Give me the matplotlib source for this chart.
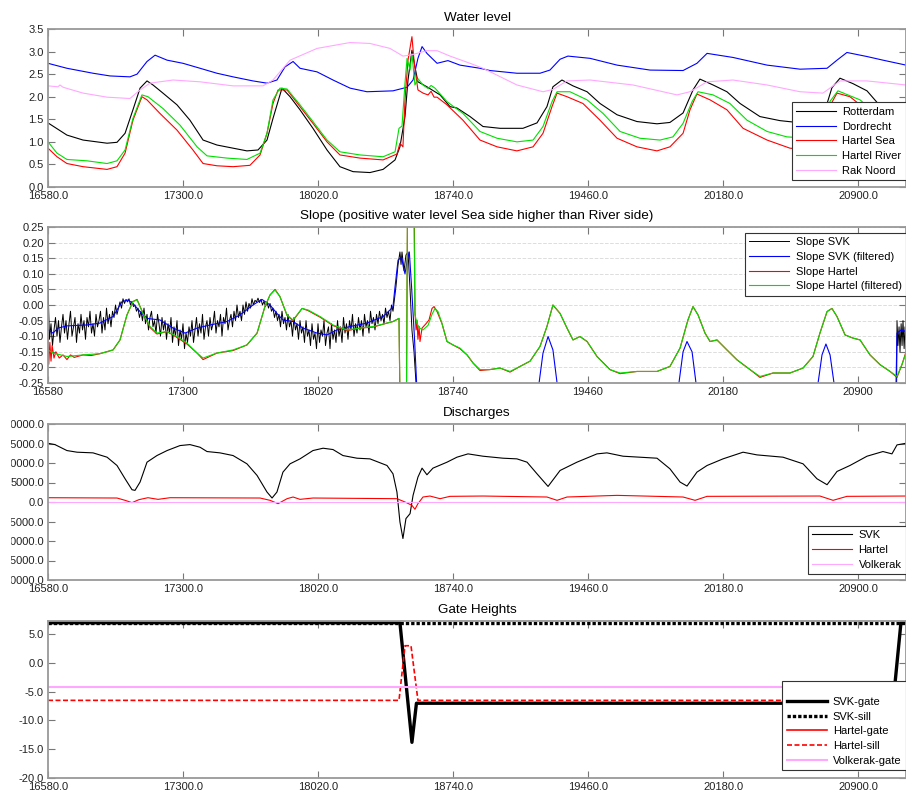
import numpy as np
import matplotlib
matplotlib.use("Agg")
import matplotlib.pyplot as plt
from matplotlib.ticker import FormatStrFormatter, FuncFormatter
from matplotlib.patches import Rectangle

plt.rcParams['font.family'] = ['Liberation Sans', 'DejaVu Sans']
plt.rcParams['font.size'] = 8

# time axis
xticks = [16580, 17300, 18020, 18740, 19460, 20180, 20900]
x_min, x_max = 16580, 21156

# water level [time, m]
rotterdam = np.array([
    [16580, 1.42], [16681, 1.15], [16767, 1.04], [16895, 0.97], [16948, 0.99], [16991, 1.19],
    [17033, 1.71], [17071, 2.19], [17108, 2.35], [17140, 2.26], [17193, 2.08], [17268, 1.82],
    [17337, 1.48], [17407, 1.04], [17481, 0.93], [17567, 0.86], [17641, 0.80], [17700, 0.82],
    [17748, 1.04], [17780, 1.52], [17828, 2.19], [17871, 2.00], [17924, 1.71], [17993, 1.30],
    [18068, 0.82], [18137, 0.45], [18207, 0.34], [18297, 0.32], [18367, 0.39], [18431, 0.60],
    [18457, 0.89], [18484, 1.56], [18500, 2.37], [18521, 3.03], [18537, 2.66], [18553, 2.33],
    [18601, 2.22], [18671, 2.04], [18724, 1.78], [18761, 1.75], [18831, 1.56], [18900, 1.34],
    [18991, 1.30], [19113, 1.30], [19188, 1.42], [19241, 1.78], [19273, 2.22], [19321, 2.37],
    [19380, 2.24], [19455, 2.11], [19524, 1.85], [19615, 1.60], [19721, 1.45], [19828, 1.40],
    [19897, 1.43], [19967, 1.64], [20020, 2.15], [20057, 2.39], [20127, 2.26], [20201, 2.11],
    [20271, 1.85], [20377, 1.56], [20484, 1.47], [20575, 1.43], [20671, 1.42], [20724, 1.70],
    [20761, 2.20], [20804, 2.41], [20873, 2.29], [20948, 2.13], [21017, 1.80], [21087, 1.55],
    [21156, 1.45]])
dordrecht = np.array([
    [16580, 2.74], [16681, 2.63], [16820, 2.52], [16911, 2.46], [17017, 2.44], [17055, 2.50],
    [17108, 2.78], [17151, 2.92], [17215, 2.81], [17300, 2.74], [17391, 2.63], [17481, 2.52],
    [17567, 2.44], [17673, 2.35], [17748, 2.30], [17801, 2.37], [17844, 2.66], [17887, 2.78],
    [17924, 2.63], [18015, 2.55], [18100, 2.37], [18191, 2.19], [18281, 2.11], [18420, 2.13],
    [18495, 2.21], [18527, 2.37], [18553, 2.85], [18575, 3.11], [18601, 2.96], [18655, 2.74],
    [18713, 2.80], [18777, 2.70], [18884, 2.63], [18937, 2.58], [19081, 2.52], [19204, 2.52],
    [19257, 2.59], [19311, 2.83], [19353, 2.90], [19471, 2.85], [19615, 2.70], [19791, 2.59],
    [19967, 2.58], [20041, 2.74], [20095, 2.96], [20233, 2.87], [20415, 2.70], [20591, 2.61],
    [20735, 2.63], [20788, 2.81], [20841, 2.98], [20948, 2.89], [21033, 2.81], [21156, 2.70]])
hartel_sea = np.array([
    [16580, 0.86], [16628, 0.67], [16681, 0.52], [16767, 0.45], [16895, 0.39], [16948, 0.45],
    [16991, 0.75], [17033, 1.48], [17081, 2.00], [17108, 1.93], [17177, 1.63], [17268, 1.26],
    [17353, 0.82], [17407, 0.52], [17481, 0.47], [17567, 0.45], [17657, 0.48], [17711, 0.71],
    [17748, 1.19], [17780, 1.85], [17807, 2.15], [17855, 2.15], [17924, 1.78], [17993, 1.41],
    [18068, 1.00], [18137, 0.71], [18244, 0.64], [18367, 0.60], [18441, 0.73], [18457, 0.97],
    [18473, 0.89], [18484, 1.93], [18500, 2.81], [18521, 3.33], [18532, 2.81], [18543, 2.44],
    [18553, 2.15], [18580, 2.08], [18607, 2.04], [18623, 2.12], [18639, 1.99], [18655, 1.99],
    [18708, 1.82], [18793, 1.48], [18884, 1.04], [18975, 0.89], [19081, 0.80], [19167, 0.89],
    [19220, 1.19], [19268, 1.78], [19295, 2.08], [19348, 2.00], [19433, 1.85], [19524, 1.48],
    [19615, 1.08], [19721, 0.89], [19828, 0.80], [19897, 0.89], [19967, 1.19], [20004, 1.71],
    [20041, 2.06], [20111, 1.93], [20201, 1.71], [20287, 1.30], [20415, 1.04], [20537, 0.86],
    [20644, 0.82], [20708, 1.10], [20751, 1.80], [20788, 2.08], [20857, 2.00], [20948, 1.70],
    [21044, 1.20], [21156, 0.95]])
hartel_river = np.array([
    [16580, 1.00], [16628, 0.75], [16681, 0.61], [16788, 0.58], [16895, 0.52], [16948, 0.58],
    [16991, 0.82], [17033, 1.52], [17081, 2.04], [17113, 2.00], [17193, 1.74], [17284, 1.37],
    [17375, 0.89], [17428, 0.69], [17535, 0.64], [17641, 0.61], [17711, 0.75], [17748, 1.19],
    [17780, 1.93], [17817, 2.19], [17855, 2.17], [17924, 1.82], [17993, 1.45], [18068, 1.04],
    [18137, 0.78], [18244, 0.71], [18367, 0.67], [18431, 0.78], [18452, 1.30], [18468, 1.35],
    [18484, 2.30], [18495, 2.85], [18511, 2.59], [18521, 2.96], [18537, 2.26], [18553, 2.40],
    [18580, 2.26], [18607, 2.18], [18623, 2.25], [18644, 2.19], [18708, 1.89], [18793, 1.63],
    [18884, 1.23], [18975, 1.08], [19081, 1.00], [19167, 1.04], [19220, 1.34], [19268, 1.89],
    [19295, 2.11], [19364, 2.11], [19455, 1.93], [19540, 1.63], [19631, 1.23], [19737, 1.08],
    [19844, 1.04], [19913, 1.11], [19967, 1.41], [20015, 1.89], [20047, 2.11], [20127, 2.04],
    [20217, 1.85], [20308, 1.48], [20415, 1.23], [20521, 1.11], [20644, 1.08], [20708, 1.30],
    [20751, 1.90], [20793, 2.13], [20911, 1.93], [21017, 1.55], [21156, 1.20]])
rak_noord = np.array([
    [16580, 2.24], [16633, 2.22], [16644, 2.26], [16660, 2.21], [16767, 2.08], [16895, 1.99],
    [17017, 1.96], [17071, 2.15], [17124, 2.30], [17247, 2.37], [17391, 2.33], [17567, 2.24],
    [17727, 2.24], [17780, 2.37], [17871, 2.81], [18015, 3.07], [18191, 3.20], [18297, 3.18],
    [18404, 3.07], [18473, 2.90], [18511, 2.92], [18601, 3.02], [18655, 3.02], [18724, 2.90],
    [18831, 2.74], [18900, 2.63], [19081, 2.26], [19220, 2.11], [19273, 2.16], [19348, 2.35],
    [19471, 2.37], [19700, 2.26], [19935, 2.04], [20004, 2.11], [20095, 2.33], [20233, 2.37],
    [20415, 2.26], [20591, 2.11], [20713, 2.08], [20804, 2.35], [20948, 2.35], [21156, 2.26]])

# slope [time, m]; raw SVK slope is sampled every 8 time units up to 18420
svk_slope_noisy = [
    0.06, -0.11, -0.06, -0.13, -0.08, -0.04, -0.10, -0.05, -0.12, -0.07,
    -0.03, -0.09, -0.05, -0.11, -0.06, -0.02, -0.10, -0.07, -0.04, -0.12,
    -0.06, -0.09, -0.03, -0.08, -0.05, -0.11, -0.04, -0.07, -0.02, -0.09,
    -0.06, -0.10, -0.03, -0.07, -0.05, -0.02, -0.09, -0.04, -0.08, -0.01,
    -0.06, -0.03, -0.07, -0.02, -0.04, 0.0, -0.03, -0.01, 0.01, -0.01,
    0.02, 0.005, 0.018, 0.01, 0.02, 0.0, 0.012, -0.005, 0.0, -0.02,
    -0.01, -0.04, -0.02, -0.05, -0.01, -0.06, -0.03, -0.08, -0.04, -0.02,
    -0.07, -0.05, -0.09, -0.03, -0.06, -0.10, -0.04, -0.08, -0.05, -0.11,
    -0.06, -0.09, -0.04, -0.12, -0.07, -0.10, -0.05, -0.13, -0.08, -0.11,
    -0.06, -0.14, -0.09, -0.12, -0.07, -0.10, -0.05, -0.12, -0.08, -0.04,
    -0.10, -0.06, -0.09, -0.03, -0.11, -0.07, -0.05, -0.10, -0.04, -0.08,
    -0.06, -0.02, -0.09, -0.05, -0.07, -0.03, -0.10, -0.04, -0.06, -0.01,
    -0.08, -0.05, -0.03, -0.07, -0.02, -0.05, 0.0, -0.04, -0.02, -0.05,
    0.0, -0.03, 0.01, -0.02, 0.005, -0.01, 0.02, 0.0, 0.015, 0.01,
    0.022, 0.008, 0.018, 0.0, 0.012, -0.005, 0.01, -0.01, 0.005, -0.02,
    -0.01, -0.04, -0.02, -0.05, -0.03, -0.07, -0.02, -0.06, -0.04, -0.08,
    -0.03, -0.07, -0.05, -0.10, -0.04, -0.08, -0.06, -0.11, -0.05, -0.09,
    -0.07, -0.12, -0.05, -0.10, -0.08, -0.13, -0.06, -0.11, -0.09, -0.14,
    -0.06, -0.12, -0.08, -0.10, -0.05, -0.13, -0.09, -0.07, -0.14, -0.06,
    -0.11, -0.08, -0.12, -0.05, -0.10, -0.07, -0.12, -0.04, -0.09, -0.06,
    -0.11, -0.05, -0.08, -0.03, -0.10, -0.06, -0.09, -0.04, -0.08, -0.05,
    -0.10, -0.03, -0.07, -0.05, -0.09, -0.02, -0.06, -0.04, -0.08, -0.03,
    -0.06, -0.02, -0.05, -0.03, -0.06, -0.01, -0.04, -0.02, -0.05, 0.0,
    -0.02]
svk_slope_noisy_t = np.arange(16580, 18421, 8)
svk_slope_tail = np.array([
    [18436, 0.06], [18447, 0.13], [18457, 0.17], [18463, 0.13], [18468, 0.17], [18479, 0.11],
    [18489, 0.16], [18500, 0.17], [18511, 0.05], [18521, -0.08], [18532, -0.15], [18548, -0.3],
    [18564, -0.6], [21103, -0.6], [21108, -0.05], [21113, -0.13], [21119, -0.07], [21124, -0.15],
    [21130, -0.06], [21135, -0.13], [21140, -0.05], [21146, -0.14], [21151, -0.07], [21156, -0.11]])
svk_slope_filt = np.array([
    [16580, -0.08], [16607, -0.09], [16633, -0.074], [16681, -0.067], [16788, -0.064],
    [16857, -0.058], [16927, -0.037], [16975, 0.011], [17007, 0.016], [17033, 0.005],
    [17071, -0.021], [17108, -0.043], [17177, -0.048], [17247, -0.074], [17311, -0.09],
    [17375, -0.074], [17444, -0.064], [17535, -0.053], [17604, -0.032], [17673, 0.0],
    [17721, 0.018], [17764, 0.0], [17801, -0.027], [17833, -0.048], [17887, -0.053],
    [17940, -0.074], [18015, -0.09], [18068, -0.096], [18121, -0.08], [18191, -0.069],
    [18281, -0.058], [18367, -0.037], [18404, -0.016], [18420, -0.005], [18431, 0.059],
    [18447, 0.144], [18466, 0.154], [18475, 0.122], [18484, 0.10], [18496, 0.144],
    [18507, 0.17], [18519, 0.059], [18534, -0.10], [18546, -0.25], [18559, -0.6],
    [19177, -0.6], [19199, -0.25], [19220, -0.154], [19247, -0.101], [19273, -0.144],
    [19295, -0.25], [19316, -0.6], [19924, -0.6], [19945, -0.25], [19967, -0.15],
    [19988, -0.117], [20015, -0.15], [20036, -0.25], [20057, -0.6], [20665, -0.6],
    [20687, -0.25], [20708, -0.16], [20729, -0.125], [20751, -0.16], [20772, -0.25],
    [20793, -0.6], [21092, -0.6], [21108, -0.09], [21130, -0.08], [21156, -0.085]])
hartel_slope = np.array([
    [16580, -0.10], [16584, -0.19], [16590, -0.12], [16596, -0.18], [16602, -0.13], [16612, -0.17],
    [16622, -0.15], [16640, -0.17], [16660, -0.16], [16681, -0.175], [16700, -0.16], [16720, -0.168],
    [16767, -0.16], [16810, -0.162], [16857, -0.156], [16927, -0.144], [16964, -0.112], [17001, -0.032],
    [17033, 0.011], [17055, 0.018], [17087, -0.027], [17124, -0.072], [17161, -0.093], [17215, -0.085],
    [17268, -0.104], [17321, -0.125], [17375, -0.154], [17407, -0.175], [17481, -0.154], [17567, -0.146],
    [17641, -0.128], [17695, -0.09], [17737, -0.005], [17764, 0.032], [17791, 0.05], [17817, 0.027],
    [17855, -0.034], [17887, -0.05], [17935, -0.011], [17967, -0.018], [18031, -0.039], [18100, -0.066],
    [18175, -0.082], [18244, -0.074], [18313, -0.071], [18388, -0.058], [18420, -0.053], [18452, -0.043],
    [18463, -0.6], [18489, -0.6], [18500, 0.6], [18530, 0.6], [18537, -0.02], [18543, -0.08],
    [18548, -0.048], [18553, -0.11], [18559, -0.069], [18564, -0.117], [18575, -0.074], [18596, -0.06],
    [18612, -0.048], [18628, -0.011], [18639, -0.005], [18655, -0.021], [18681, -0.059], [18708, -0.117],
    [18740, -0.128], [18777, -0.14], [18815, -0.16], [18847, -0.186], [18884, -0.21], [18937, -0.207],
    [18991, -0.202], [19044, -0.215], [19097, -0.197], [19151, -0.18], [19204, -0.133], [19241, -0.069],
    [19273, 0.0], [19311, -0.027], [19348, -0.074], [19380, -0.112], [19417, -0.101], [19455, -0.117],
    [19508, -0.165], [19577, -0.207], [19631, -0.22], [19721, -0.213], [19828, -0.213], [19897, -0.197],
    [19951, -0.138], [19993, -0.048], [20020, -0.005], [20047, -0.032], [20084, -0.09], [20111, -0.117],
    [20148, -0.112], [20201, -0.144], [20255, -0.176], [20324, -0.207], [20377, -0.232], [20447, -0.218],
    [20537, -0.218], [20607, -0.202], [20660, -0.165], [20697, -0.09], [20735, -0.021], [20761, -0.011],
    [20788, -0.037], [20831, -0.096], [20873, -0.106], [20911, -0.112], [20964, -0.16], [21017, -0.191],
    [21071, -0.213], [21108, -0.232], [21135, -0.19], [21156, -0.15]])
hartel_slope_filt = np.array([
    [16580, -0.144], [16607, -0.154], [16681, -0.165], [16767, -0.16], [16857, -0.156], [16927, -0.144],
    [16964, -0.112], [17001, -0.032], [17033, 0.011], [17055, 0.016], [17087, -0.027], [17124, -0.069],
    [17161, -0.09], [17215, -0.085], [17268, -0.101], [17321, -0.122], [17375, -0.154], [17407, -0.17],
    [17481, -0.154], [17567, -0.144], [17641, -0.128], [17695, -0.09], [17737, -0.005], [17764, 0.032],
    [17791, 0.048], [17817, 0.027], [17855, -0.032], [17887, -0.048], [17935, -0.011], [17967, -0.016],
    [18031, -0.037], [18100, -0.064], [18175, -0.08], [18244, -0.074], [18313, -0.069], [18388, -0.058],
    [18420, -0.053], [18452, -0.043], [18463, -0.6], [18489, -0.6], [18500, 0.6], [18527, 0.6],
    [18537, -0.03], [18548, -0.06], [18564, -0.075], [18580, -0.08], [18607, -0.065], [18628, -0.03],
    [18644, -0.011], [18660, -0.021], [18681, -0.059], [18708, -0.117], [18740, -0.128], [18777, -0.138],
    [18815, -0.16], [18847, -0.186], [18884, -0.207], [18937, -0.207], [18991, -0.202], [19044, -0.213],
    [19097, -0.197], [19151, -0.18], [19204, -0.133], [19241, -0.069], [19273, 0.0], [19311, -0.027],
    [19348, -0.074], [19380, -0.112], [19417, -0.101], [19455, -0.117], [19508, -0.165], [19577, -0.207],
    [19631, -0.218], [19721, -0.213], [19828, -0.213], [19897, -0.197], [19951, -0.138], [19993, -0.048],
    [20020, -0.005], [20047, -0.032], [20084, -0.09], [20111, -0.117], [20148, -0.112], [20201, -0.144],
    [20255, -0.176], [20324, -0.207], [20377, -0.229], [20447, -0.218], [20537, -0.218], [20607, -0.202],
    [20660, -0.165], [20697, -0.09], [20735, -0.021], [20761, -0.011], [20788, -0.037], [20831, -0.096],
    [20873, -0.106], [20911, -0.112], [20964, -0.16], [21017, -0.191], [21071, -0.213], [21108, -0.229],
    [21135, -0.19], [21156, -0.154]])

# discharges [time, m3/s]
svk_q = np.array([
    [16580, 15060], [16617, 14720], [16681, 13190], [16735, 12770], [16820, 12600], [16895, 11490],
    [16948, 9360], [16991, 5960], [17028, 3150], [17044, 2980], [17071, 5110], [17108, 10210],
    [17161, 11910], [17215, 13190], [17284, 14470], [17337, 14720], [17391, 14040], [17428, 12940],
    [17497, 12600], [17567, 11910], [17641, 9790], [17695, 6810], [17748, 2550], [17775, 1020],
    [17801, 2550], [17833, 7660], [17871, 9790], [17924, 11060], [17993, 13190], [18047, 13790],
    [18100, 13450], [18153, 11910], [18228, 11230], [18297, 11060], [18388, 9360], [18420, 7230],
    [18441, 2550], [18457, -5110], [18473, -9360], [18489, -4260], [18511, -2980], [18527, 1700],
    [18553, 6380], [18575, 8680], [18601, 6980], [18633, 8680], [18708, 10210], [18761, 11490],
    [18820, 12340], [18900, 11740], [19007, 11230], [19081, 11060], [19135, 10210], [19188, 7230],
    [19247, 3990], [19311, 8080], [19401, 10210], [19508, 12340], [19561, 12600], [19647, 11740],
    [19828, 11230], [19897, 8510], [19951, 5110], [19988, 4090], [20041, 7660], [20095, 9360],
    [20180, 11060], [20287, 12770], [20361, 12080], [20500, 11490], [20607, 9790], [20681, 5960],
    [20735, 4430], [20788, 7830], [20857, 9360], [20948, 11740], [21033, 12940], [21081, 12340],
    [21108, 14640], [21156, 15060]])
hartel_q = np.array([
    [16580, 1100], [16948, 1020], [16991, 430], [17028, -170], [17065, 600], [17113, 1100],
    [17167, 680], [17231, 1100], [17711, 1020], [17764, 430], [17807, -430], [17855, 850],
    [17887, 1280], [17924, 680], [17993, 1020], [18441, 850], [18484, 0], [18521, -850],
    [18537, -1870], [18553, -430], [18580, 1280], [18617, 1530], [18671, 850], [18724, 1450],
    [18900, 1530], [19241, 1280], [19295, 430], [19348, 1280], [19615, 1700], [19967, 1280],
    [20031, 430], [20095, 1450], [20697, 1530], [20767, 430], [20841, 1450], [21156, 1530]])
volkerak_q = np.array([[16580, 100], [21156, 100]])

# gate heights [time, m]
svk_gate = np.array([[16580, 7.0], [18457, 7.0], [18521, -13.8], [18545, -7.0], [21087, -7.0],
                     [21129, 7.0], [21156, 7.0]])
svk_sill = np.array([[16580, 7.0], [21156, 7.0]])
hartel_gate = np.array([[16580, np.nan], [21156, np.nan]])
hartel_sill = np.array([[16580, -6.5], [18452, -6.5], [18484, 3.0], [18516, 3.0], [18553, -6.5],
                        [21156, -6.5]])
volkerak_gate = np.array([[16580, -4.1], [21156, -4.1]])

pink = '#ffa8ff'
green = '#00e000'

fig = plt.figure(figsize=(9.06, 7.93), dpi=100)


def make_axes(top, bottom):
    return fig.add_axes([48 / 906, 1 - bottom / 793, 858 / 906, (bottom - top) / 793])


def style(ax, xfmt, yfmt):
    ax.set_xlim(x_min, x_max)
    ax.set_xticks(xticks)
    ax.xaxis.set_major_formatter(FormatStrFormatter(xfmt))
    ax.yaxis.set_major_formatter(FuncFormatter(lambda v, p: yfmt % (0.0 if abs(v) < 1e-9 else v)))
    ax.tick_params(direction='in', top=True, right=True, length=5, width=0.8,
                   color='#777777', labelsize=8, labelcolor='#222222', pad=3)
    for s in ax.spines.values():
        s.set_color('#999999')
        s.set_linewidth(1.3)


def legend(ax, loc, anchor, **kw):
    leg = ax.legend(loc=loc, bbox_to_anchor=anchor, fontsize=8, fancybox=False, framealpha=1,
                    edgecolor='#333333', handlelength=3.6, handletextpad=0.55,
                    labelspacing=0.42, borderpad=0.4, borderaxespad=0, **kw)
    leg.get_frame().set_linewidth(0.8)


# 1 water level
ax1 = make_axes(29, 187)
ax1.plot(rotterdam[:, 0], rotterdam[:, 1], color='k', lw=0.8, label='Rotterdam')
ax1.plot(dordrecht[:, 0], dordrecht[:, 1], color='b', lw=0.8, label='Dordrecht')
ax1.plot(hartel_sea[:, 0], hartel_sea[:, 1], color='r', lw=0.8, label='Hartel Sea')
ax1.plot(hartel_river[:, 0], hartel_river[:, 1], color=green, lw=0.8, label='Hartel River')
ax1.plot(rak_noord[:, 0], rak_noord[:, 1], color=pink, lw=0.8, label='Rak Noord')
ax1.set_ylim(0, 3.5)
ax1.set_yticks(np.arange(0, 3.51, 0.5))
style(ax1, '%.1f', '%.1f')
ax1.set_title('Water level', fontsize=9.7, pad=6)
legend(ax1, 'lower right', (1.0, 0.044))

# 2 slope
ax2 = make_axes(227, 383)
svk_t = np.concatenate([svk_slope_noisy_t, svk_slope_tail[:, 0]])
svk_v = np.concatenate([svk_slope_noisy, svk_slope_tail[:, 1]])
ax2.plot(svk_t, svk_v, color='k', lw=0.7, label='Slope SVK')
ax2.plot(svk_slope_filt[:, 0], svk_slope_filt[:, 1], color='b', lw=0.8, label='Slope SVK (filtered)')
ax2.plot(hartel_slope[:, 0], hartel_slope[:, 1], color='r', lw=0.8, label='Slope Hartel')
ax2.plot(hartel_slope_filt[:, 0], hartel_slope_filt[:, 1], color=green, lw=0.8,
         label='Slope Hartel (filtered)')
ax2.set_ylim(-0.25, 0.25)
ax2.set_yticks(np.round(np.arange(-0.25, 0.251, 0.05), 2))
ax2.yaxis.grid(True, linestyle='--', color='#dddddd', lw=0.7)
style(ax2, '%d', '%.2f')
ax2.set_title('Slope (positive water level Sea side higher than River side)', fontsize=9.7, pad=6)
legend(ax2, 'upper right', (1.0, 0.962))

# 3 discharges
ax3 = make_axes(424, 580)
ax3.plot(svk_q[:, 0], svk_q[:, 1], color='k', lw=0.8, label='SVK')
ax3.plot(hartel_q[:, 0], hartel_q[:, 1], color='r', lw=0.8, label='Hartel')
ax3.plot(volkerak_q[:, 0], volkerak_q[:, 1], color=pink, lw=0.8, label='Volkerak')
ax3.set_ylim(-20000, 20000)
ax3.set_yticks(np.arange(-20000, 20001, 5000))
style(ax3, '%.1f', '%.1f')
ax3.set_title('Discharges', fontsize=9.7, pad=6)
legend(ax3, 'lower right', (1.0, 0.038))

# 4 gate heights
ax4 = make_axes(621, 778)
ax4.plot(svk_gate[:, 0], svk_gate[:, 1], color='k', lw=2.4, label='SVK-gate')
ax4.plot(svk_sill[:, 0], svk_sill[:, 1], color='k', lw=2.4, linestyle=(0, (1, 0.6)), label='SVK-sill')
ax4.plot(hartel_gate[:, 0], hartel_gate[:, 1], color='r', lw=1.2, label='Hartel-gate')
ax4.plot(hartel_sill[:, 0], hartel_sill[:, 1], color='r', lw=1.2, linestyle=(0, (3, 1.5)),
         label='Hartel-sill')
ax4.plot(volkerak_gate[:, 0], volkerak_gate[:, 1], color=pink, lw=1.5, label='Volkerak-gate')
ax4.set_ylim(-20, 7.3)
ax4.set_yticks(np.arange(-20, 5.1, 5))
style(ax4, '%.1f', '%.1f')
ax4.set_title('Gate Heights', fontsize=9.7, pad=6)
legend(ax4, 'lower right', (1.0, 0.051), title=' ', title_fontsize=5)

# the original picture is cut off a few pixels in from the left edge
fig.add_artist(Rectangle((0, 0), 10 / 906, 1, transform=fig.transFigure, color='white', zorder=10))

fig.savefig('out.png', dpi=100)
